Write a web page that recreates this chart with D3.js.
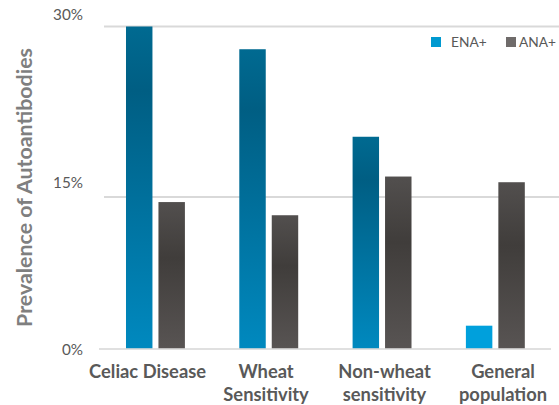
<!DOCTYPE html>
<html>
<head>
<meta charset="utf-8">
<script src="https://cdn.jsdelivr.net/npm/d3@7"></script>
<style>
  html, body { margin: 0; padding: 0; background: #fff; }
  svg { display: block; }
  text { font-family: Lato, "Open Sans", "DejaVu Sans", sans-serif; }
</style>
</head>
<body>
<svg id="chart" width="559" height="405"></svg>
<script>
// ---- data ----
const categories = [["Celiac Disease"], ["Wheat", "Sensitivity"], ["Non-wheat", "sensitivity"], ["General", "population"]];
const seriesNames = ["ENA+", "ANA+"];
const enaValues = [0.300, 0.280, 0.203, 0.023];
const anaValues = [0.145, 0.132, 0.168, 0.163];
const tickValues = [0, 0.15, 0.30];
const tickLabels = ["0%", "15%", "30%"];
const yTitle = "Prevalence of Autoantibodies";

// ---- styles ----
const enaFills = ["url(#gEna)", "url(#gEna)", "url(#gEna)", "#00A0DC"];
const legendColors = ["#0099D0", "#6F6B6A"];

const svg = d3.select("#chart");
const catKeys = categories.map(c => c.join(" "));

// scales
const y = d3.scaleLinear().domain([0, 0.15, 0.30]).range([349, 197, 26.5]);
const yLab = d3.scaleLinear().domain([0, 0.15, 0.30]).range([354.7, 187.7, 20]);
const x0 = d3.scaleBand().domain(catKeys).range([98.8, 552]).paddingInner(0.48).paddingOuter(0.24);
const x1 = d3.scaleBand().domain(seriesNames).range([0, x0.bandwidth()]).paddingInner(0.185);
const xLab = d3.scalePoint().domain(catKeys).range([147.6, 503]);

// gradients
const defs = svg.append("defs");
const gE = defs.append("linearGradient").attr("id", "gEna").attr("x1", 0).attr("y1", 0).attr("x2", 0).attr("y2", 1);
[[0, "#006A91"], [0.2, "#005E83"], [1, "#0089BF"]].forEach(([o, c]) => gE.append("stop").attr("offset", o).attr("stop-color", c));
const gA = defs.append("linearGradient").attr("id", "gAna").attr("x1", 0).attr("y1", 0).attr("x2", 0).attr("y2", 1);
[[0, "#524F4E"], [0.38, "#403D3B"], [1, "#585453"]].forEach(([o, c]) => gA.append("stop").attr("offset", o).attr("stop-color", c));

// gridlines (non-zero)
svg.append("g").selectAll("line").data(tickValues.filter(v => v > 0)).join("line")
  .attr("x1", 104).attr("x2", 559)
  .attr("y1", d => y(d)).attr("y2", d => y(d))
  .attr("stroke", "#D9D9D9").attr("stroke-width", 2);

// bars
const groups = svg.append("g").selectAll("g").data(catKeys).join("g")
  .attr("transform", d => `translate(${x0(d)},0)`);
groups.append("rect")
  .attr("x", x1("ENA+")).attr("width", x1.bandwidth())
  .attr("y", (d, i) => y(enaValues[i])).attr("height", (d, i) => y(0) - y(enaValues[i]))
  .attr("fill", (d, i) => enaFills[i]);
groups.append("rect")
  .attr("x", x1("ANA+")).attr("width", x1.bandwidth())
  .attr("y", (d, i) => y(anaValues[i])).attr("height", (d, i) => y(0) - y(anaValues[i]))
  .attr("fill", "url(#gAna)");

// zero axis line
svg.append("line").attr("x1", 99).attr("x2", 551).attr("y1", y(0)).attr("y2", y(0))
  .attr("stroke", "#D9D9D9").attr("stroke-width", 2).attr("opacity", 0.8);

function fit(sel, target) {
  const fs = parseFloat(sel.attr("font-size"));
  const w = sel.node().getComputedTextLength();
  sel.attr("font-size", fs * target / w);
  return fs * target / w;
}

// tick labels
const ticks = svg.append("g").selectAll("text").data(tickValues).join("text")
  .attr("x", 83).attr("y", d => yLab(d))
  .attr("text-anchor", "end").attr("fill", "#595959").attr("font-size", 15)
  .text((d, i) => tickLabels[i]);
const tfs = fit(ticks.filter((d, i) => i === 2), 30);
ticks.attr("font-size", tfs);

// category labels
const lab = svg.append("g").selectAll("text").data(categories).join("text")
  .attr("x", (d, i) => xLab(catKeys[i]))
  .attr("y", 378.3)
  .attr("text-anchor", "middle").attr("fill", "#595959")
  .attr("font-weight", "bold").attr("font-size", 18);
lab.selectAll("tspan").data(d => d).join("tspan")
  .attr("x", function() { return d3.select(this.parentNode).attr("x"); })
  .attr("dy", (d, i) => i === 0 ? 0 : 22.4)
  .text(d => d);
const first = lab.filter((d, i) => i === 0);
const cfs = fit(first, 117);
lab.attr("font-size", cfs);

// y title
const yt = svg.append("text")
  .attr("transform", "translate(32,187.5) rotate(-90)")
  .attr("text-anchor", "middle").attr("fill", "#7F7F7F")
  .attr("font-weight", "bold").attr("font-size", 20)
  .text(yTitle);
fit(yt, 279);

// legend
const legX = [431, 506];
const leg = svg.append("g").selectAll("g").data(seriesNames).join("g")
  .attr("transform", (d, i) => `translate(${legX[i]},37)`);
leg.append("rect").attr("width", 10).attr("height", 10).attr("fill", (d, i) => legendColors[i]);
const legText = leg.append("text")
  .attr("x", (d, i) => i === 0 ? 20 : 13).attr("y", 9.7)
  .attr("fill", "#595959").attr("font-size", 14)
  .text(d => d);
const lfs = fit(legText.filter((d, i) => i === 0), 35.7);
legText.attr("font-size", lfs);
</script>
</body>
</html>
